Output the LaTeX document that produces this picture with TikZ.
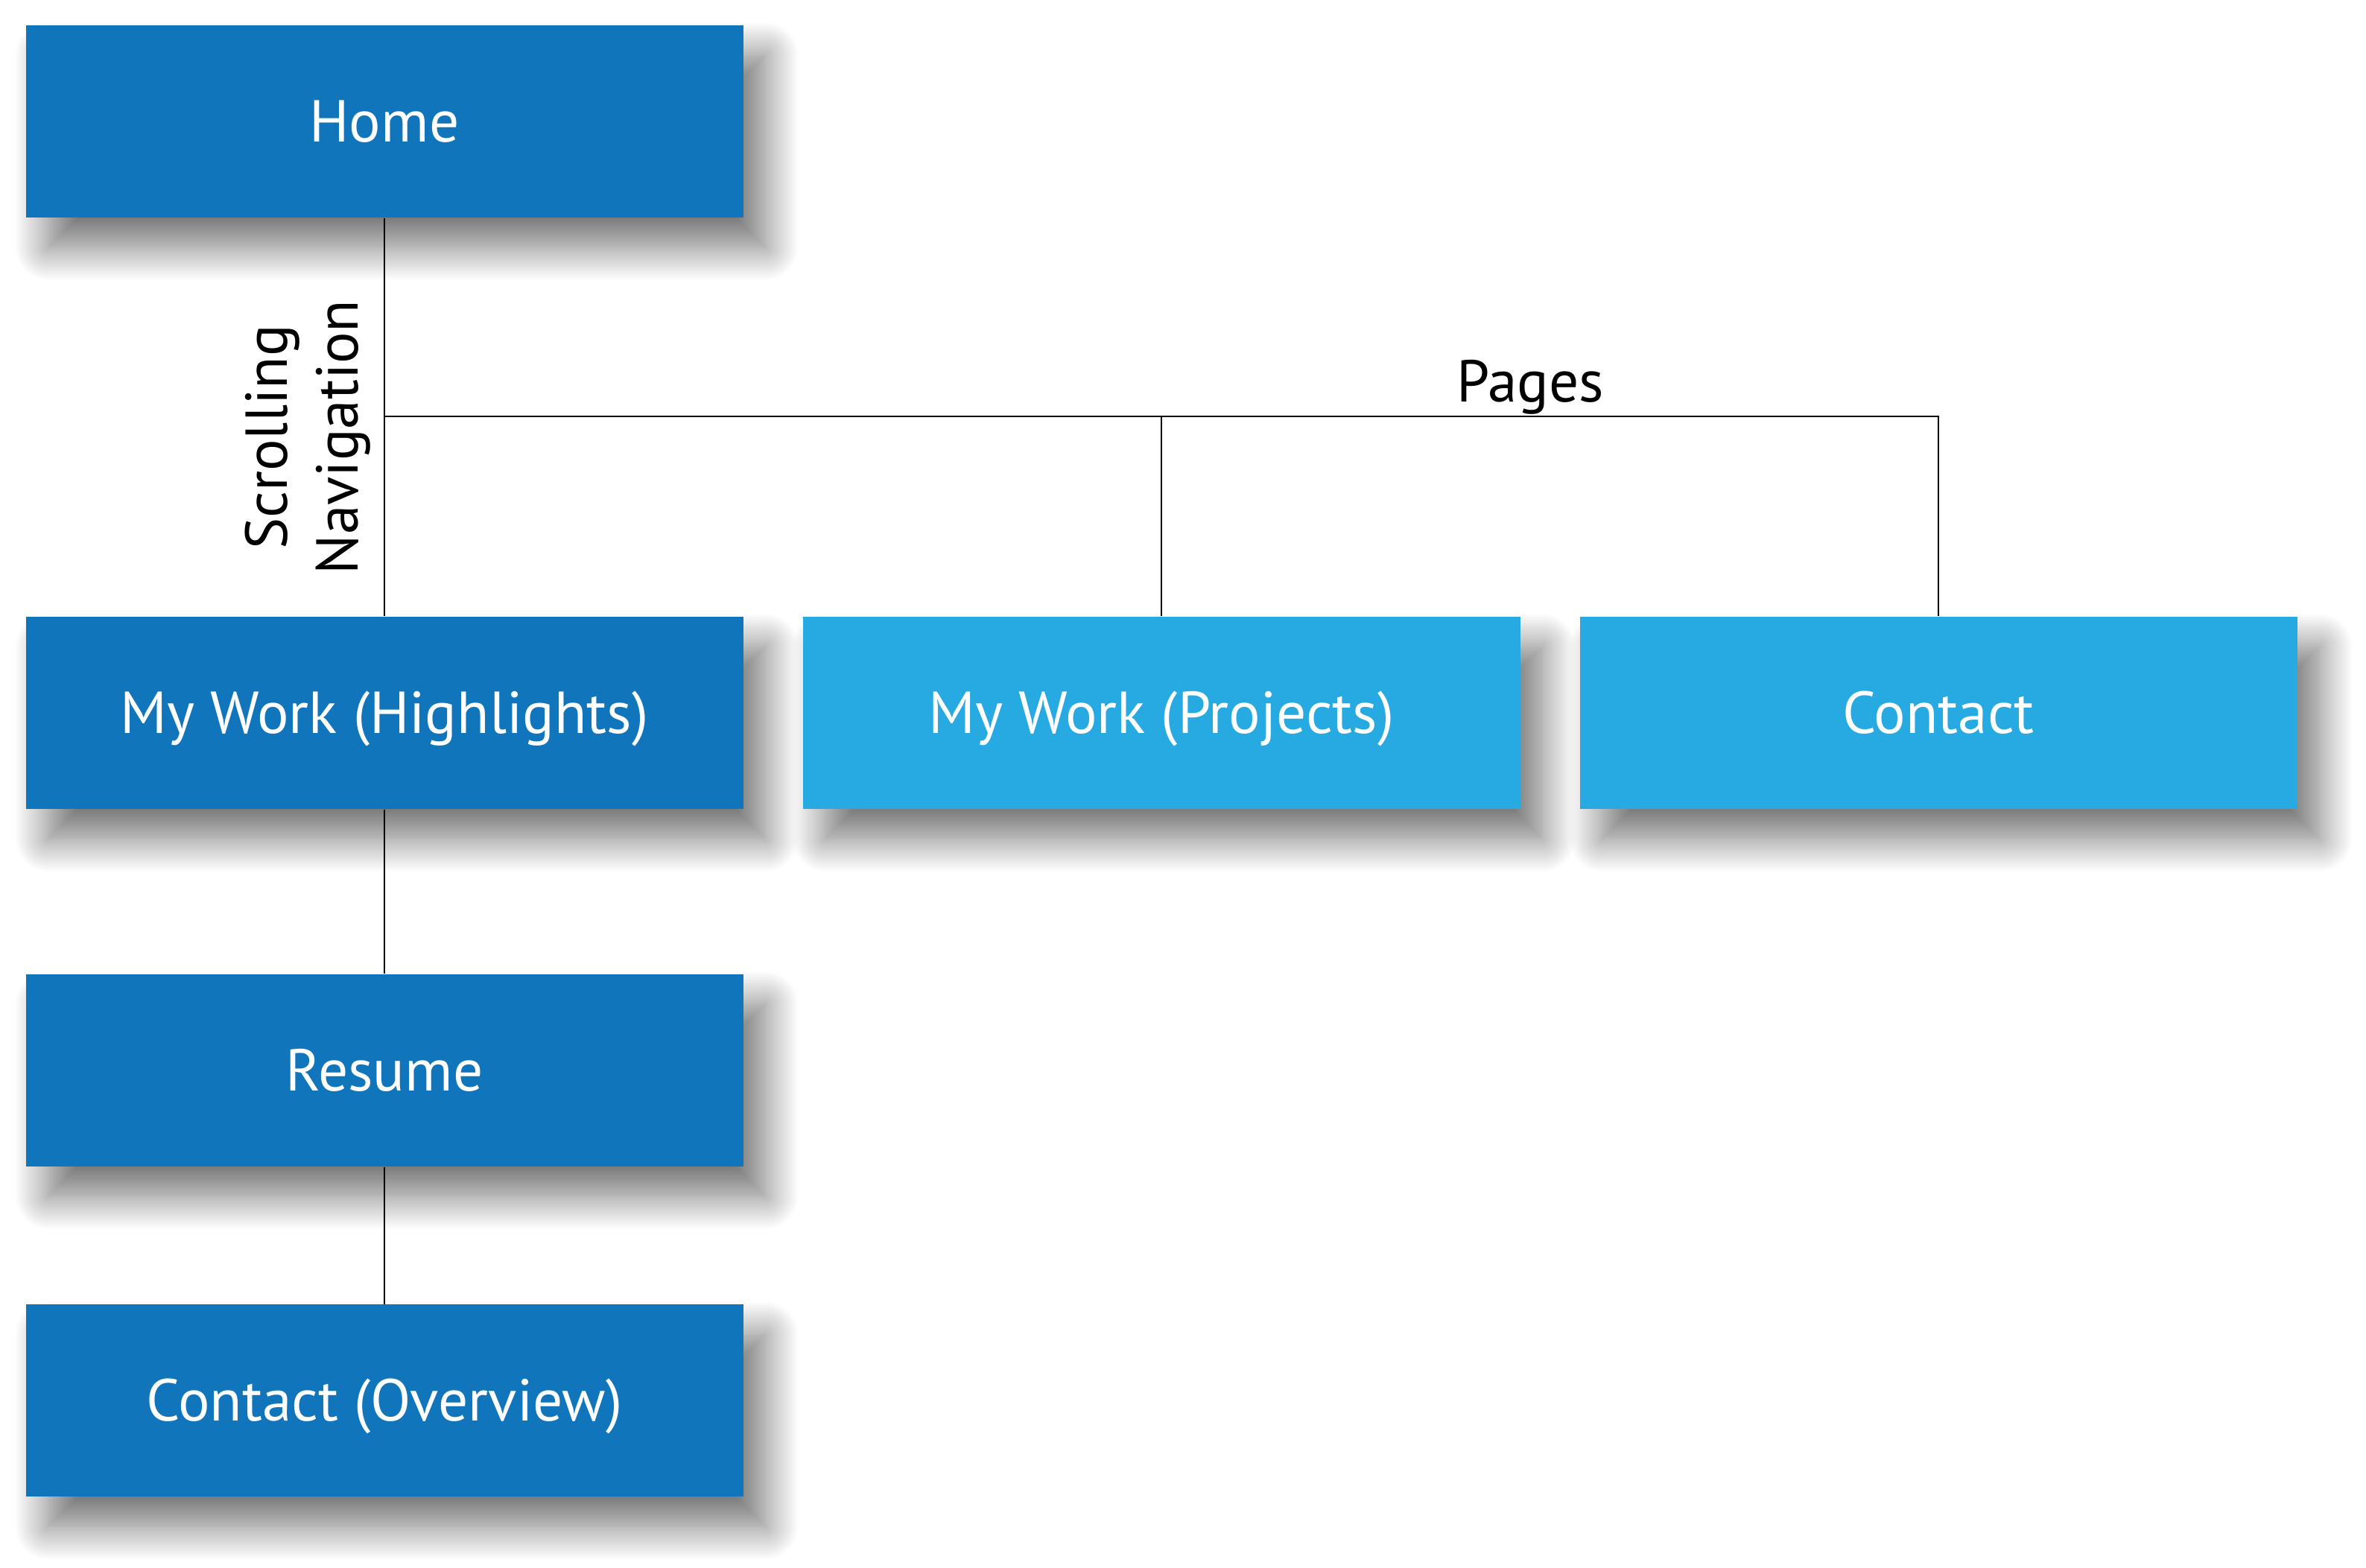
\documentclass[tikz,border=0pt]{standalone}
\usepackage{fontspec}
\setmainfont{PT Sans}
\usetikzlibrary{shadows.blur}
\definecolor{darkblue}{HTML}{1175BC}
\definecolor{lightblue}{HTML}{26AAE1}
\tikzset{
  pagebox/.style={fill=darkblue, text=white, minimum width=9.63cm, minimum height=2.58cm,
    inner sep=0pt, text height=15.6pt, text depth=0pt, font=\fontsize{22.6}{27}\selectfont,
    blur shadow={shadow xshift=0.3cm, shadow yshift=-0.4cm, shadow blur radius=0.45cm,
      shadow blur steps=24, shadow opacity=55}},
  subbox/.style={pagebox, fill=lightblue},
  lbl/.style={font=\fontsize{22.6}{27}\selectfont, align=center}
}
\begin{document}
\begin{tikzpicture}
      \useasboundingbox (0, 0) rectangle (31.76, 21.05);

      \node [pagebox] (home) at (5.16, 19.42) {Home};
      \node [pagebox] (highlights) at (5.16, 11.48) {My Work (Highlights)};
      \node [subbox] (projects) at (15.59, 11.48) {My Work (Projects)};
      \node [subbox] (contact) at (26.02, 11.48) {Contact};
      \node [pagebox] (resume) at (5.16, 6.68) {Resume};
      \node [pagebox] (overview) at (5.16, 2.245) {Contact (Overview)};

      \coordinate (split) at (5.16, 15.46);
      \draw [thick] (home) -- (highlights);
      \draw [thick] (split) -| (contact);
      \draw [thick] (split -| projects) -- (projects);
      \draw [thick] (highlights) -- (resume);
      \draw [thick] (resume) -- (overview);

      \node [lbl] (pages) at (20.54, 15.85) {Pages};
      \node [lbl, rotate=90] (scrolling) at (4.13, 15.18) {Scrolling\\Navigation};
    \end{tikzpicture}
\end{document}
